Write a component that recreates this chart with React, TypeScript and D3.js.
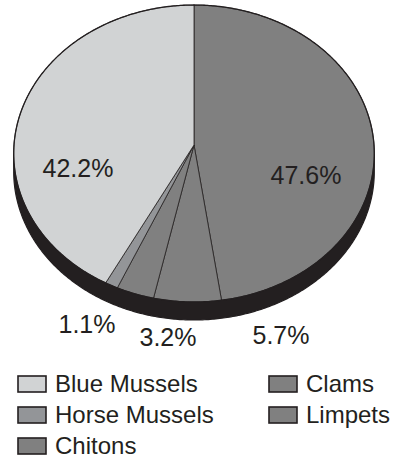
import React from "react";
import * as d3 from "d3";

const categories = ["Clams", "Limpets", "Chitons", "Horse Mussels", "Blue Mussels"];
const values = [47.6, 5.7, 3.2, 1.1, 42.2];
const labels = ["47.6%", "5.7%", "3.2%", "1.1%", "42.2%"];
const legendOrder = ["Blue Mussels", "Clams", "Horse Mussels", "Limpets", "Chitons"];

const COLORS: Record<string, string> = {
  "Clams": "#808080",
  "Limpets": "#808080",
  "Chitons": "#808080",
  "Horse Mussels": "#939598",
  "Blue Mussels": "#d1d3d4",
};
const INK = "#231f20";
const FONT = "'Liberation Sans', Arial, Helvetica, sans-serif";

// layout
const W = 393, H = 466;
const CX = 194, CY = 145, RX = 180, RY = 148, K = -0.0573, DEPTH = 18;
const LABEL_POS: Record<string, [number, number]> = {
  "Clams": [306, 184],
  "Limpets": [281, 344],
  "Chitons": [168, 346],
  "Horse Mussels": [87, 333],
  "Blue Mussels": [78, 177],
};
const LEGEND_X = [17, 268];
const LEGEND_Y = [392, 423, 454];

function proj(theta: number, dy = 0): [number, number] {
  const u = Math.sin(theta);
  const v = -Math.cos(theta);
  const w = 1 + K * v;
  return [CX + (RX * u) / w, CY + (RY * v) / w + dy];
}

function sample(a0: number, a1: number, dy = 0): [number, number][] {
  const n = Math.max(2, Math.ceil(Math.abs(a1 - a0) / 0.01));
  return d3.range(n + 1).map((i) => proj(a0 + ((a1 - a0) * i) / n, dy));
}

export default function App() {
  const pie = d3.pie<number>().sort(null).value((d) => d).startAngle(0).endAngle(2 * Math.PI);
  const arcs = pie(values);
  const line = d3.line();

  const tR = Math.PI / 2 + Math.asin(-K);
  const tL = (3 * Math.PI) / 2 - Math.asin(-K);
  const sidePts = [...sample(tR, tL, 0), ...sample(tL, tR, DEPTH)];
  const outline = sample(0, 2 * Math.PI);

  const legendItems = legendOrder.map((name, i) => ({
    name,
    col: i % 2,
    row: Math.floor(i / 2),
  }));

  return (
    <svg width={W} height={H} style={{ position: "absolute", left: 0, top: 0 }}>
      <rect width={W} height={H} fill="#ffffff" />
      <path d={line(sidePts) + "Z"} fill={INK} stroke={INK} strokeWidth={1.2} />
      {arcs.map((a, i) => (
        <path
          key={categories[i]}
          d={line([[CX, CY], ...sample(a.startAngle, a.endAngle)]) + "Z"}
          fill={COLORS[categories[i]]}
          stroke={INK}
          strokeWidth={0.8}
          strokeLinejoin="round"
        />
      ))}
      <path d={line(outline) + "Z"} fill="none" stroke={INK} strokeWidth={1.3} />
      {categories.map((c, i) => (
        <text
          key={c}
          x={LABEL_POS[c][0]}
          y={LABEL_POS[c][1]}
          textAnchor="middle"
          fontFamily={FONT}
          fontSize={25}
          fill={INK}
        >
          {labels[i]}
        </text>
      ))}
      {legendItems.map((it) => (
        <g key={it.name} transform={`translate(${LEGEND_X[it.col]},${LEGEND_Y[it.row]})`}>
          <rect x={1} y={-16} width={28} height={16} fill={COLORS[it.name]} stroke={INK} strokeWidth={1.6} />
          <text x={38} y={0} fontFamily={FONT} fontSize={24} fill={INK}>
            {it.name}
          </text>
        </g>
      ))}
    </svg>
  );
}
